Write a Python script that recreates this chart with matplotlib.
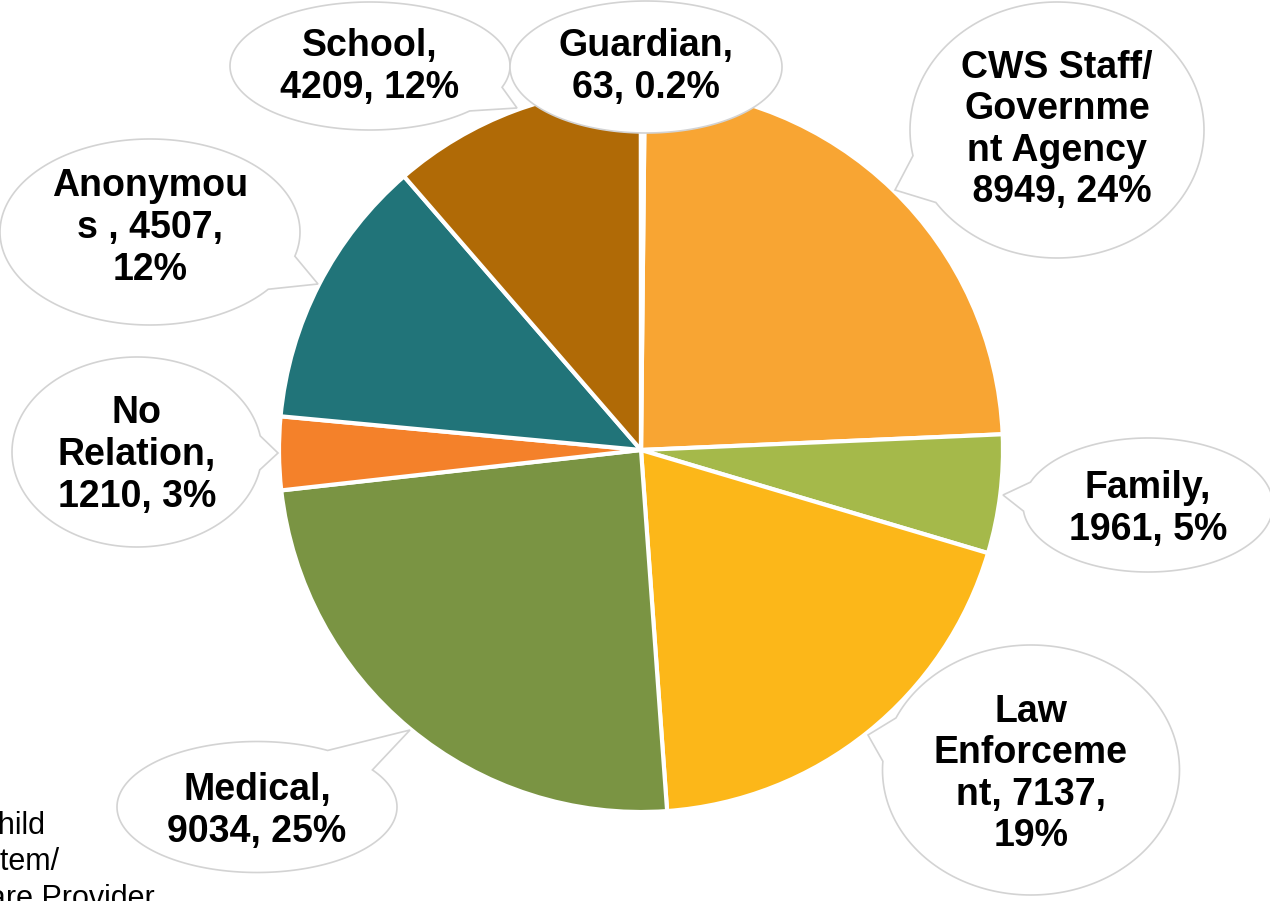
import numpy as np
import matplotlib.pyplot as plt
from matplotlib.path import Path
from matplotlib.patches import PathPatch

# ---------------------------------------------------------------------------
# Data
# ---------------------------------------------------------------------------
categories = ["CWS Staff/Government Agency", "Family", "Law Enforcement",
              "Medical", "No Relation", "Anonymous", "School", "Guardian"]
values = [8949, 1961, 7137, 9034, 1210, 4507, 4209, 63]
label_texts = [
    "CWS Staff/\nGovernme\nnt Agency\n 8949, 24%",
    "Family,\n1961, 5%",
    "Law\nEnforceme\nnt, 7137,\n19%",
    "Medical,\n9034, 25%",
    "No\nRelation,\n1210, 3%",
    "Anonymou\ns , 4507,\n12%",
    "School,\n4209, 12%",
    "Guardian,\n63, 0.2%",
]
colors = ["#F8A533", "#A5B94A", "#FCB719", "#7A9443",
          "#F4812A", "#217479", "#B06A06", "#C9A66B"]

# clipped caption at the bottom-left edge of the slide
side_lines = ["Child", "System/", "Care Provider"]

# ---------------------------------------------------------------------------
# Layout (pixel coordinates, y measured from the top)
# ---------------------------------------------------------------------------
W, H = 1270, 901
pie_center = (641, 450)
pie_radius = 362

# bubble: (cx, cy, width, height, tail tip x, tail tip y, half-angle)
bubbles = [
    (1057, 130, 294, 256, 895, 190, 0.20),
    (1148, 505, 250, 134, 1003, 495, 0.22),
    (1031, 770, 297, 250, 868, 735, 0.18),
    (257, 807, 280, 131, 410, 730, 0.22),
    (137, 452, 250, 190, 278, 453, 0.18),
    (150, 232, 300, 186, 318, 284, 0.20),
    (370, 66, 280, 128, 517, 108, 0.22),
    (646, 67, 272, 132, None, None, 0.0),
]
text_y = [130, 509, 774, 811, 455, 228, 67, 67]
text_x = [1057, 1148, 1031, 257, 137, 150, 370, 646]

side_x = [45, 60, 155]
side_y = [826, 862, 899]


def fy(y):
    return H - y


def bubble_path(cx, cy, w, h, tx, ty, d):
    a, b = w / 2.0, h / 2.0
    cy_, ty_ = fy(cy), None if ty is None else fy(ty)
    if tx is None:
        t = np.linspace(0, 2 * np.pi, 240)
        pts = np.column_stack([cx + a * np.cos(t), cy_ + b * np.sin(t)])
    else:
        th = np.arctan2((ty_ - cy_) / b, (tx - cx) / a)
        t = np.linspace(th + d, th + 2 * np.pi - d, 240)
        pts = np.column_stack([cx + a * np.cos(t), cy_ + b * np.sin(t)])
        pts = np.vstack([pts, [tx, ty_]])
    pts = np.vstack([pts, pts[0]])
    codes = [Path.MOVETO] + [Path.LINETO] * (len(pts) - 2) + [Path.CLOSEPOLY]
    return Path(pts, codes)


plt.rcParams["font.family"] = ["Liberation Sans", "DejaVu Sans"]

fig = plt.figure(figsize=(W / 100, H / 100), dpi=100)
ax = fig.add_axes([0, 0, 1, 1])

ax.pie(values, colors=colors, startangle=89.4, counterclock=False,
       center=(pie_center[0], fy(pie_center[1])), radius=pie_radius,
       wedgeprops=dict(edgecolor="white", linewidth=3))

for (cx, cy, w, h, tx, ty, d), lab, x, y in zip(bubbles, label_texts, text_x, text_y):
    ax.add_patch(PathPatch(bubble_path(cx, cy, w, h, tx, ty, d),
                           facecolor="white", edgecolor="#D3D3D3",
                           linewidth=1.2, zorder=3))
    ax.text(x, fy(y), lab, ha="center", va="center", fontsize=27,
            fontweight="bold", color="black", linespacing=1.2, zorder=4)

for s, x, y in zip(side_lines, side_x, side_y):
    ax.text(x, fy(y), s, ha="right", va="center", fontsize=22, color="black")

ax.set_xlim(0, W)
ax.set_ylim(0, H)
ax.set_aspect("equal")
ax.axis("off")

fig.savefig("out.png", dpi=100)
